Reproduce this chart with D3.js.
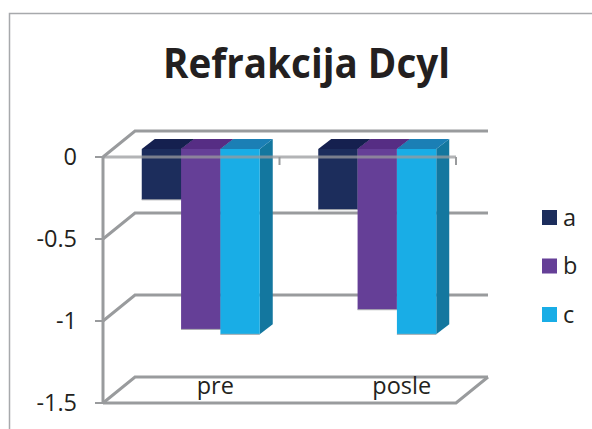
<!DOCTYPE html>
<html><head><meta charset="utf-8">
<script src="https://cdn.jsdelivr.net/npm/d3@7"></script>
<style>html,body{margin:0;padding:0;background:#fff;overflow:hidden}svg{display:block}text{font-family:"Open Sans",Lato,sans-serif;fill:#231f20}</style>
</head><body><div id="c"></div>
<script>
const titleText = "Refrakcija Dcyl";
const categories = ["pre", "posle"];
const seriesNames = ["a", "b", "c"];
const a = [-0.31, -0.37];
const b = [-1.10, -0.98];
const c = [-1.13, -1.13];
const seriesValues = [a, b, c];
const tickValues = [0, -0.5, -1, -1.5];
const frontColors = ["#1c2d5c", "#653f97", "#19ade6"];
const topColors = ["#15204f", "#562d84", "#1b7fb5"];
const sideColors = ["#14204a", "#4d2f78", "#13779f"];

const W = 592, H = 429, gridColor = "#999b9d";
const depth = {x: 32, y: -26};      // wall depth of the 3D box
const barShift = {x: 9.5, y: -8};   // bars stand part-way into the box
const barDepth = {x: 13, y: -10};

const svg = d3.select("#c").append("svg").attr("width", W).attr("height", H);

svg.append("path").attr("d", `M9.5 ${H}V13.5H${W}`).attr("fill", "none").attr("stroke", "#a7a9ac").attr("stroke-width", 1.5);

svg.append("text").attr("x", 306.5).attr("y", 77.5).attr("text-anchor", "middle")
  .attr("font-size", 41).attr("font-weight", 700)
  .attr("textLength", 287).attr("lengthAdjust", "spacingAndGlyphs").text(titleText);

const x0 = d3.scaleBand().domain(categories).range([103, 456]);
const x1 = d3.scaleBand().domain(seriesNames).range([0, 118]);
const y = d3.scaleLinear().domain([0, -1.5]).range([157, 403]);
const groupInset = (x0.bandwidth() - x1.range()[1]) / 2;

const grid = svg.append("g").attr("fill", "none").attr("stroke", gridColor).attr("stroke-width", 3);
const right = x0.range()[1], left = x0.range()[0];
tickValues.forEach(t => {
  grid.append("path").attr("d", `M${left} ${y(t)}L${left + depth.x} ${y(t) + depth.y}H${right + depth.x}`);
});
// floor front edge and closing diagonal
grid.append("path").attr("d", `M${left} ${y(-1.5)}H${right}L${right + depth.x} ${y(-1.5) + depth.y}`);
grid.append("path").attr("d", d3.line()([[left, y(0)], [left, y(-1.5)]]));

// y axis ticks
const ticks = svg.append("g");
tickValues.forEach(t => {
  ticks.append("line").attr("x1", left - 8).attr("x2", left).attr("y1", y(t)).attr("y2", y(t))
    .attr("stroke", gridColor).attr("stroke-width", 2);
  ticks.append("text").attr("x", 77).attr("y", y(t) + 8).attr("text-anchor", "end")
    .attr("font-size", 23.5).text(String(t));
});

// bars
const bars = svg.append("g");
categories.forEach((cat, ci) => {
  seriesNames.forEach((s, si) => {
    const xl = x0(cat) + groupInset + barShift.x + x1(s);
    const xr = xl + x1.bandwidth();
    const yt = y(0) + barShift.y;
    const yb = y(seriesValues[si][ci]) + barShift.y;
    bars.append("polygon").attr("fill", sideColors[si])
      .attr("points", [[xr, yt], [xr + barDepth.x, yt + barDepth.y], [xr + barDepth.x, yb + barDepth.y], [xr, yb]].join(" "));
    bars.append("polygon").attr("fill", topColors[si])
      .attr("points", [[xl, yt], [xl + barDepth.x, yt + barDepth.y], [xr + barDepth.x, yt + barDepth.y], [xr, yt]].join(" "));
    bars.append("rect").attr("x", xl).attr("y", yt).attr("width", x1.bandwidth()).attr("height", yb - yt)
      .attr("fill", frontColors[si]);
    bars.append("path").attr("d", `M${xl} ${yb}H${xr}`).attr("stroke", "#a9abae").attr("stroke-width", 1);
  });
});

// zero line passes in front of bars, with tick marks at band ends
const zero = svg.append("g").attr("stroke", gridColor).attr("fill", "none");
zero.append("line").attr("x1", left).attr("x2", right).attr("y1", y(0)).attr("y2", y(0)).attr("stroke-width", 3).attr("stroke-opacity", 0.75);
categories.forEach(cat => {
  const xe = x0(cat) + x0.bandwidth();
  zero.append("line").attr("x1", xe).attr("x2", xe).attr("y1", y(0)).attr("y2", y(0) + 8).attr("stroke-width", 2);
});

// category labels on the floor
const labelShift = [24, 34];
categories.forEach((cat, i) => {
  svg.append("text").attr("x", x0(cat) + x0.bandwidth() / 2 + labelShift[i]).attr("y", 394)
    .attr("text-anchor", "middle").attr("font-size", 23.5).text(cat);
});

// legend
const legendY = d3.scalePoint().domain(seriesNames).range([217.5, 314.5]);
seriesNames.forEach((s, i) => {
  svg.append("rect").attr("x", 542).attr("y", legendY(s) - 7.5).attr("width", 15).attr("height", 15).attr("fill", frontColors[i]);
  svg.append("text").attr("x", 563).attr("y", legendY(s) + 8).attr("font-size", 23.5).text(s);
});
</script></body></html>
